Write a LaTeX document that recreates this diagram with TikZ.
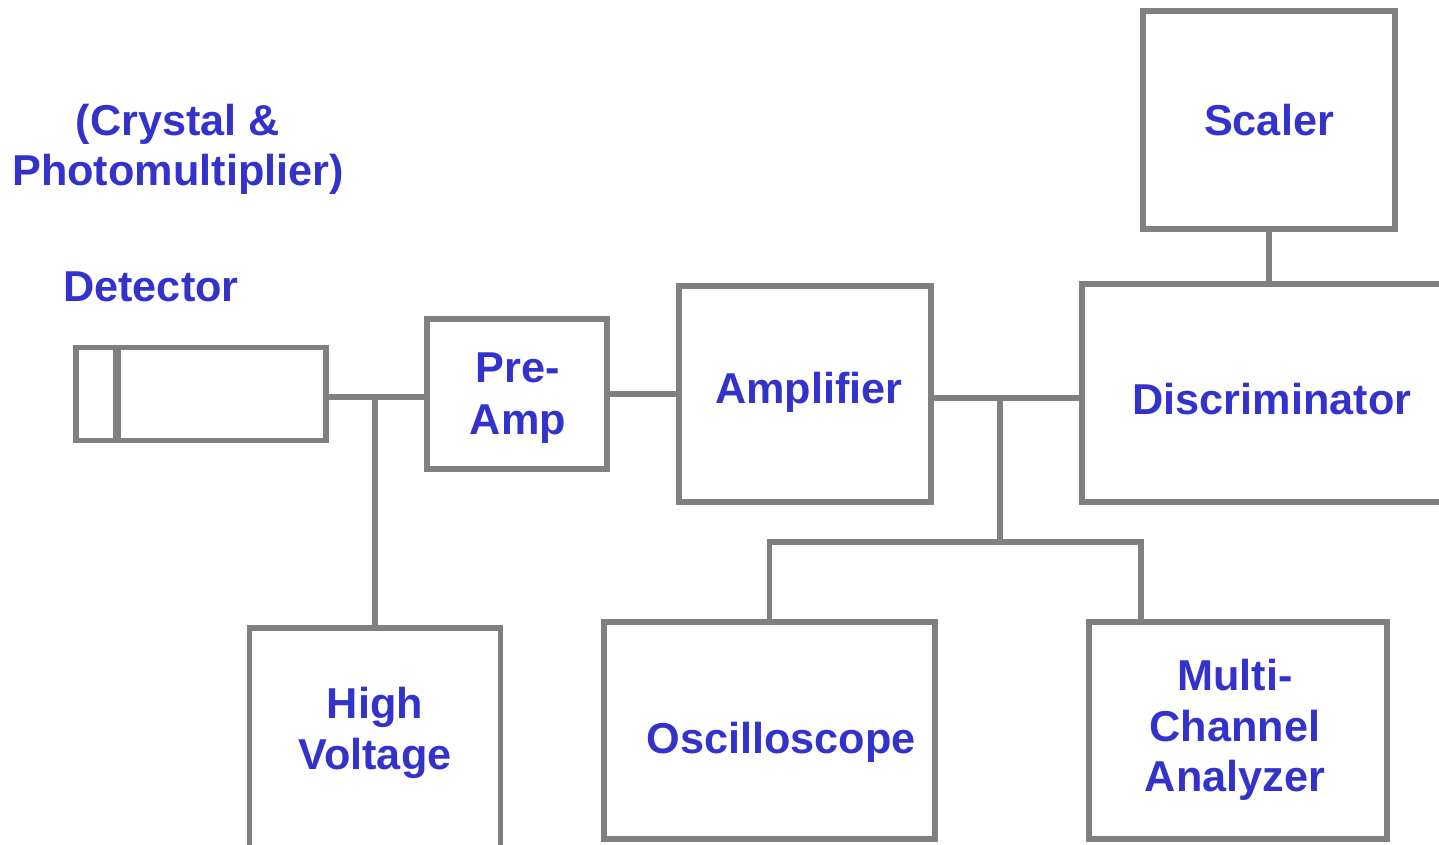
\documentclass[tikz,border=0pt]{standalone}
\usepackage{fontspec}
\setmainfont{Liberation Sans}
\definecolor{boxgray}{RGB}{128,128,128}
\definecolor{lblblue}{RGB}{51,51,204}
\tikzset{
  blk/.style={draw=boxgray, line width=1.45pt, inner sep=0pt, align=center},
  wire/.style={draw=boxgray, line width=1.45pt},
  lbl/.style={text=lblblue, align=center}
}
\begin{document}
\begin{tikzpicture}[x=0.1mm, y=-0.1mm,
  font=\fontsize{12.3}{14.3}\selectfont\bfseries, every node/.append style={text=lblblue}]

\clip (0,0) rectangle (1439,845);

% ── Detector ──────────────────────────────────────────────────
\node[lbl] (crys) at (178,149) {(Crystal \&\\Photomultiplier)};
\node[lbl] (dlbl) at (151,287) {Detector};
\node[blk, minimum width=4mm, minimum height=9.3mm] (cap) at (96,394) {};
\node[blk, minimum width=21mm, minimum height=9.3mm] (det) at (221,394) {};
\draw[wire] (cap.north east) -- (cap.south east);

% ── Cajas de la cadena ────────────────────────────────────────
\node[blk, minimum width=18mm, minimum height=15mm] (pre) at (517,394) {};
\node[lbl, font=\fontsize{12.3}{14.8}\selectfont\bfseries] (pretxt) at (518,398)
    {Pre-\\Amp};
\node[blk, minimum width=25.2mm, minimum height=21.6mm] (amp) at (805,394) {};
\node[lbl] (amptxt) at (809,392) {Amplifier};
\node[blk, minimum width=38mm, minimum height=21.8mm] (disc) at (1272,393) {};
\node[lbl] (disctxt) at (1272,399) {Discriminator};
\node[blk, minimum width=25.2mm, minimum height=21.8mm] (scl) at (1269,120)
    {Scaler};
\node[blk, minimum width=25.1mm, minimum height=24mm] (hv) at (375,748) {};
\node[lbl] (hvtxt) at (375,733) {High\\Voltage};
\node[blk, minimum width=33.1mm, minimum height=21.7mm] (osc) at (769.5,730.5) {};
\node[lbl] (osctxt) at (781,742) {Oscilloscope};
\node[blk, minimum width=29.8mm, minimum height=21.7mm] (mca) at (1238,730.5) {};
\node[lbl] (mcatxt) at (1235,730) {Multi-\\Channel\\Analyzer};

% ── Puntos de unión ───────────────────────────────────────────
\coordinate (hvj)   at (375,397);
\coordinate (split) at (1000,398);
\coordinate (bus)   at (1000,542);
\coordinate (busR)  at (1141,542);

% ── Conexiones ────────────────────────────────────────────────
\draw[wire] (det.east |- hvj) -- (pre.west |- hvj);
\draw[wire] (hvj) -- (hv.north);
\draw[wire] (pre.east) -- (amp.west |- pre.east);
\draw[wire] (amp.east |- split) -- (disc.west |- split);
\draw[wire] (split) -- (bus);
\draw[wire] (osc.north) |- (busR) -- (busR |- mca.north);
\draw[wire] (scl.south) -- (scl.south |- disc.north);

\end{tikzpicture}
\end{document}
